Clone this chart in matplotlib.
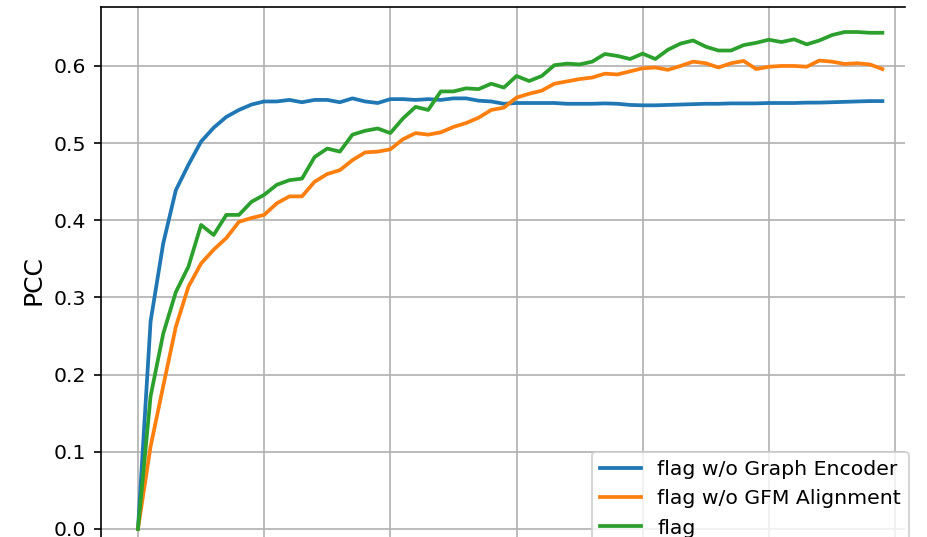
import matplotlib
matplotlib.use("Agg")
import matplotlib.pyplot as plt
import numpy as np

epochs = list(range(60))

pcc_no_graph_encoder = [
    0.000, 0.269, 0.370, 0.439, 0.472, 0.502, 0.520, 0.534, 0.543, 0.550,
    0.554, 0.554, 0.556, 0.553, 0.556, 0.556, 0.553, 0.558, 0.554, 0.552,
    0.557, 0.557, 0.556, 0.557, 0.556, 0.558, 0.558, 0.555, 0.554, 0.551,
    0.552, 0.552, 0.552, 0.552, 0.551, 0.551, 0.551, 0.5515, 0.551, 0.5495,
    0.549, 0.549, 0.5495, 0.550, 0.5505, 0.551, 0.551, 0.5515, 0.5515, 0.5515,
    0.552, 0.552, 0.552, 0.5525, 0.5525, 0.553, 0.5535, 0.554, 0.5545, 0.5545,
]

pcc_no_gfm_alignment = [
    0.000, 0.107, 0.185, 0.262, 0.314, 0.344, 0.362, 0.377, 0.398, 0.403,
    0.407, 0.422, 0.431, 0.431, 0.450, 0.460, 0.465, 0.478, 0.488, 0.489,
    0.492, 0.505, 0.513, 0.511, 0.514, 0.521, 0.526, 0.533, 0.543, 0.546,
    0.559, 0.564, 0.568, 0.577, 0.580, 0.583, 0.585, 0.590, 0.589, 0.593,
    0.597, 0.598, 0.595, 0.600, 0.6056, 0.6035, 0.598, 0.6035, 0.6065, 0.596,
    0.599, 0.600, 0.600, 0.599, 0.607, 0.6056, 0.6026, 0.6035, 0.602, 0.596,
]

pcc_flag = [
    0.000, 0.172, 0.253, 0.307, 0.340, 0.394, 0.381, 0.407, 0.407, 0.424,
    0.433, 0.446, 0.452, 0.454, 0.482, 0.493, 0.489, 0.511, 0.516, 0.519,
    0.513, 0.532, 0.547, 0.543, 0.567, 0.567, 0.571, 0.570, 0.577, 0.572,
    0.587, 0.5805, 0.587, 0.601, 0.603, 0.602, 0.6056, 0.6155, 0.613, 0.609,
    0.616, 0.609, 0.621, 0.629, 0.633, 0.625, 0.620, 0.620, 0.627, 0.630,
    0.634, 0.631, 0.6345, 0.628, 0.633, 0.640, 0.644, 0.644, 0.643, 0.643,
]

labels = ["flag w/o Graph Encoder", "flag w/o GFM Alignment", "flag"]
colors = ["#1f77b4", "#ff7f0e", "#2ca02c"]

W, H, DPI = 927, 537, 150
fig = plt.figure(figsize=(W / DPI, H / DPI), dpi=DPI)

# axes placement in pixels (left 101, right 905, top 7, bottom 554)
left, right, top, bottom = 101, 905, 7, 554
ax = fig.add_axes([left / W, 1 - bottom / H, (right - left) / W, (bottom - top) / H])

for ys, lab, c in zip([pcc_no_graph_encoder, pcc_no_gfm_alignment, pcc_flag], labels, colors):
    ax.plot(epochs, ys, color=c, linewidth=1.8, label=lab)

ax.set_xlim(-2.93, 60.79)
ax.set_ylim(-0.0324, 0.6764)
ax.set_xticks(np.arange(0, 61, 10))
ax.set_yticks(np.arange(0, 0.61, 0.1))
ax.set_yticklabels([f"{v:.1f}" for v in np.arange(0, 0.61, 0.1)])
ax.tick_params(axis="both", labelsize=9.8)
ax.tick_params(axis="x", labelbottom=False, bottom=False)
ax.grid(True, color="#b0b0b0", linewidth=0.8)
ax.set_axisbelow(True)
ax.spines["right"].set_visible(False)
ax.set_ylabel("PCC", fontsize=12)

leg = ax.legend(loc="upper left", bbox_to_anchor=(592 / W, 1 - 452 / H),
                bbox_transform=fig.transFigure, borderaxespad=0, fontsize=9.8,
                frameon=True)

fig.savefig("out.png", dpi=DPI)
